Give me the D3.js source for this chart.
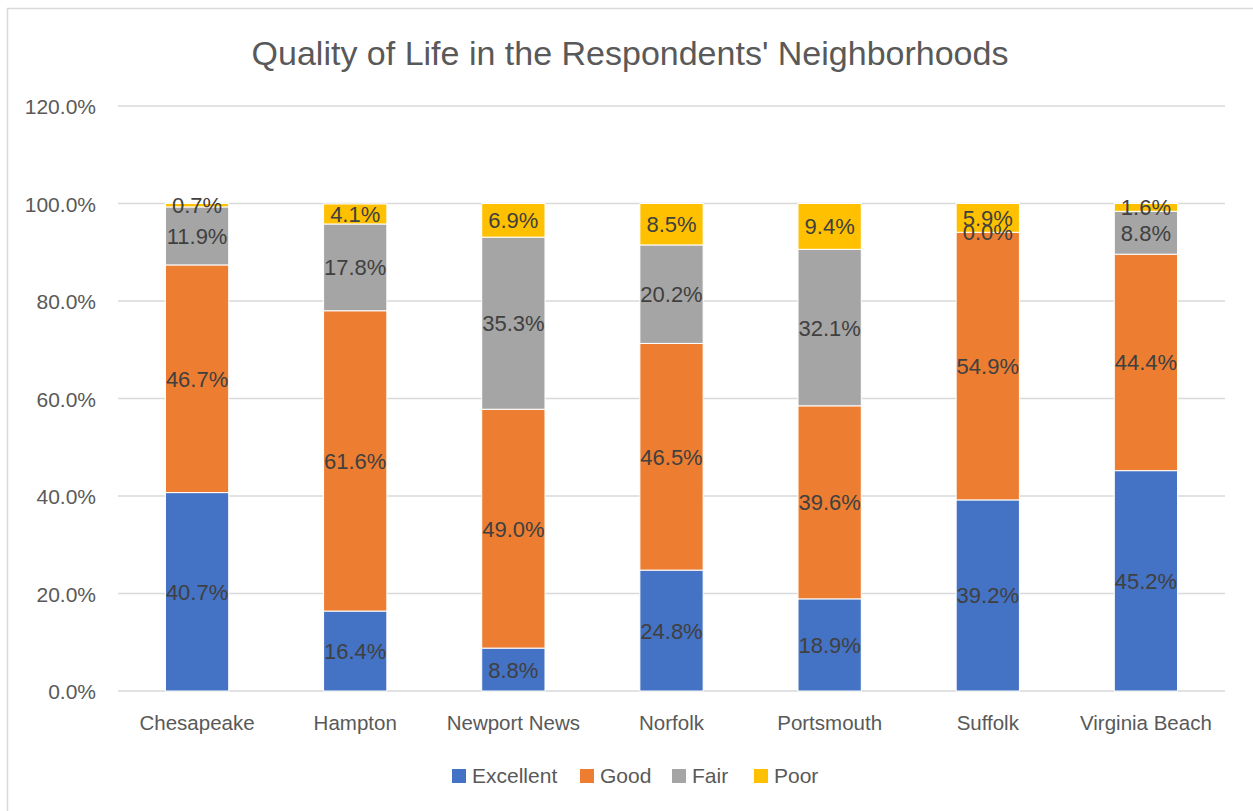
<!DOCTYPE html>
<html>
<head>
<meta charset="utf-8">
<script src="https://cdn.jsdelivr.net/npm/d3@7"></script>
<style>
  body { margin: 0; background: #fff; }
  svg { display: block; }
</style>
</head>
<body>
<div id="svg"></div>
<script>
// data
var cities = ["Chesapeake", "Hampton", "Newport News", "Norfolk", "Portsmouth", "Suffolk", "Virginia Beach"];
var seriesNames = ["Excellent", "Good", "Fair", "Poor"];
var excellent = [40.7, 16.4, 8.8, 24.8, 18.9, 39.2, 45.2];
var good = [46.7, 61.6, 49.0, 46.5, 39.6, 54.9, 44.4];
var fair = [11.9, 17.8, 35.3, 20.2, 32.1, 0.0, 8.8];
var poor = [0.7, 4.1, 6.9, 8.5, 9.4, 5.9, 1.6];
var yTicks = [0, 20, 40, 60, 80, 100, 120];

var colours = ["#4472c4", "#ed7d31", "#a5a5a5", "#ffc000"];
var svgWidth = 1253, svgHeight = 811;
var fontFam = "'Liberation Sans', 'Noto Sans', sans-serif";

var rows = cities.map(function(c, i) {
    return { city: c, Excellent: excellent[i], Good: good[i], Fair: fair[i], Poor: poor[i] };
});
var stacked = d3.stack().keys(seriesNames)(rows);

var svgGraph = d3.select("div#svg").append("svg")
    .attr("width", svgWidth).attr("height", svgHeight);

// chart border
svgGraph.append("rect")
    .attr("x", 7.5).attr("y", 8.5)
    .attr("width", svgWidth + 10).attr("height", svgHeight + 10)
    .attr("fill", "none").attr("stroke", "#d9d9d9").attr("stroke-width", 1.5);

// title
svgGraph.append("text")
    .text("Quality of Life in the Respondents' Neighborhoods")
    .attr("x", 630).attr("y", 65)
    .attr("text-anchor", "middle")
    .attr("font-family", fontFam).attr("font-size", 34)
    .attr("fill", "#595959");

var x = d3.scaleBand().domain(cities).range([118, 1225]).paddingInner(0.6).paddingOuter(0.3);
var y = d3.scaleLinear().domain([0, 120]).range([691, 106]);

// gridlines
svgGraph.append("g").selectAll("line").data(yTicks).join("line")
    .attr("x1", 118).attr("x2", 1225)
    .attr("y1", function(d) { return y(d); }).attr("y2", function(d) { return y(d); })
    .attr("stroke", "#d9d9d9").attr("stroke-width", 1.5);

// y labels
svgGraph.append("g").selectAll("text").data(yTicks).join("text")
    .text(function(d) { return d.toFixed(1) + "%"; })
    .attr("x", 96).attr("y", function(d) { return y(d) + 8; })
    .attr("text-anchor", "end")
    .attr("font-family", fontFam).attr("font-size", 21)
    .attr("fill", "#595959");

// x labels
svgGraph.append("g").selectAll("text").data(cities).join("text")
    .text(function(d) { return d; })
    .attr("x", function(d) { return x(d) + x.bandwidth() / 2; })
    .attr("y", 730)
    .attr("text-anchor", "middle")
    .attr("font-family", fontFam).attr("font-size", 20.5)
    .attr("fill", "#595959");

// bars
var layers = svgGraph.append("g").selectAll("g").data(stacked).join("g")
    .attr("fill", function(d, i) { return colours[i]; });
layers.selectAll("rect").data(function(d) { return d; }).join("rect")
    .attr("x", function(d) { return x(d.data.city); })
    .attr("width", x.bandwidth())
    .attr("y", function(d) { return y(d[1]); })
    .attr("height", function(d) { return Math.max(0, y(d[0]) - y(d[1])); })
    .attr("stroke", "#fff").attr("stroke-width", 1);

// value labels
var labelLayers = svgGraph.append("g").selectAll("g").data(stacked).join("g");
labelLayers.selectAll("text").data(function(d) { return d; }).join("text")
    .text(function(d) { return (d[1] - d[0]).toFixed(1) + "%"; })
    .attr("x", function(d) { return x(d.data.city) + x.bandwidth() / 2; })
    .attr("y", function(d) { return (y(d[0]) + y(d[1])) / 2 + 8; })
    .attr("text-anchor", "middle")
    .attr("font-family", fontFam).attr("font-size", 22)
    .attr("fill", "#404040");

// legend
var legendX = [452, 580, 672, 754];
var legend = svgGraph.append("g").selectAll("g").data(seriesNames).join("g")
    .attr("transform", function(d, i) { return "translate(" + legendX[i] + ",769)"; });
legend.append("rect")
    .attr("width", 14).attr("height", 14)
    .attr("fill", function(d, i) { return colours[i]; });
legend.append("text")
    .text(function(d) { return d; })
    .attr("x", 20).attr("y", 14)
    .attr("font-family", fontFam).attr("font-size", 21)
    .attr("fill", "#595959");
</script>
</body>
</html>
